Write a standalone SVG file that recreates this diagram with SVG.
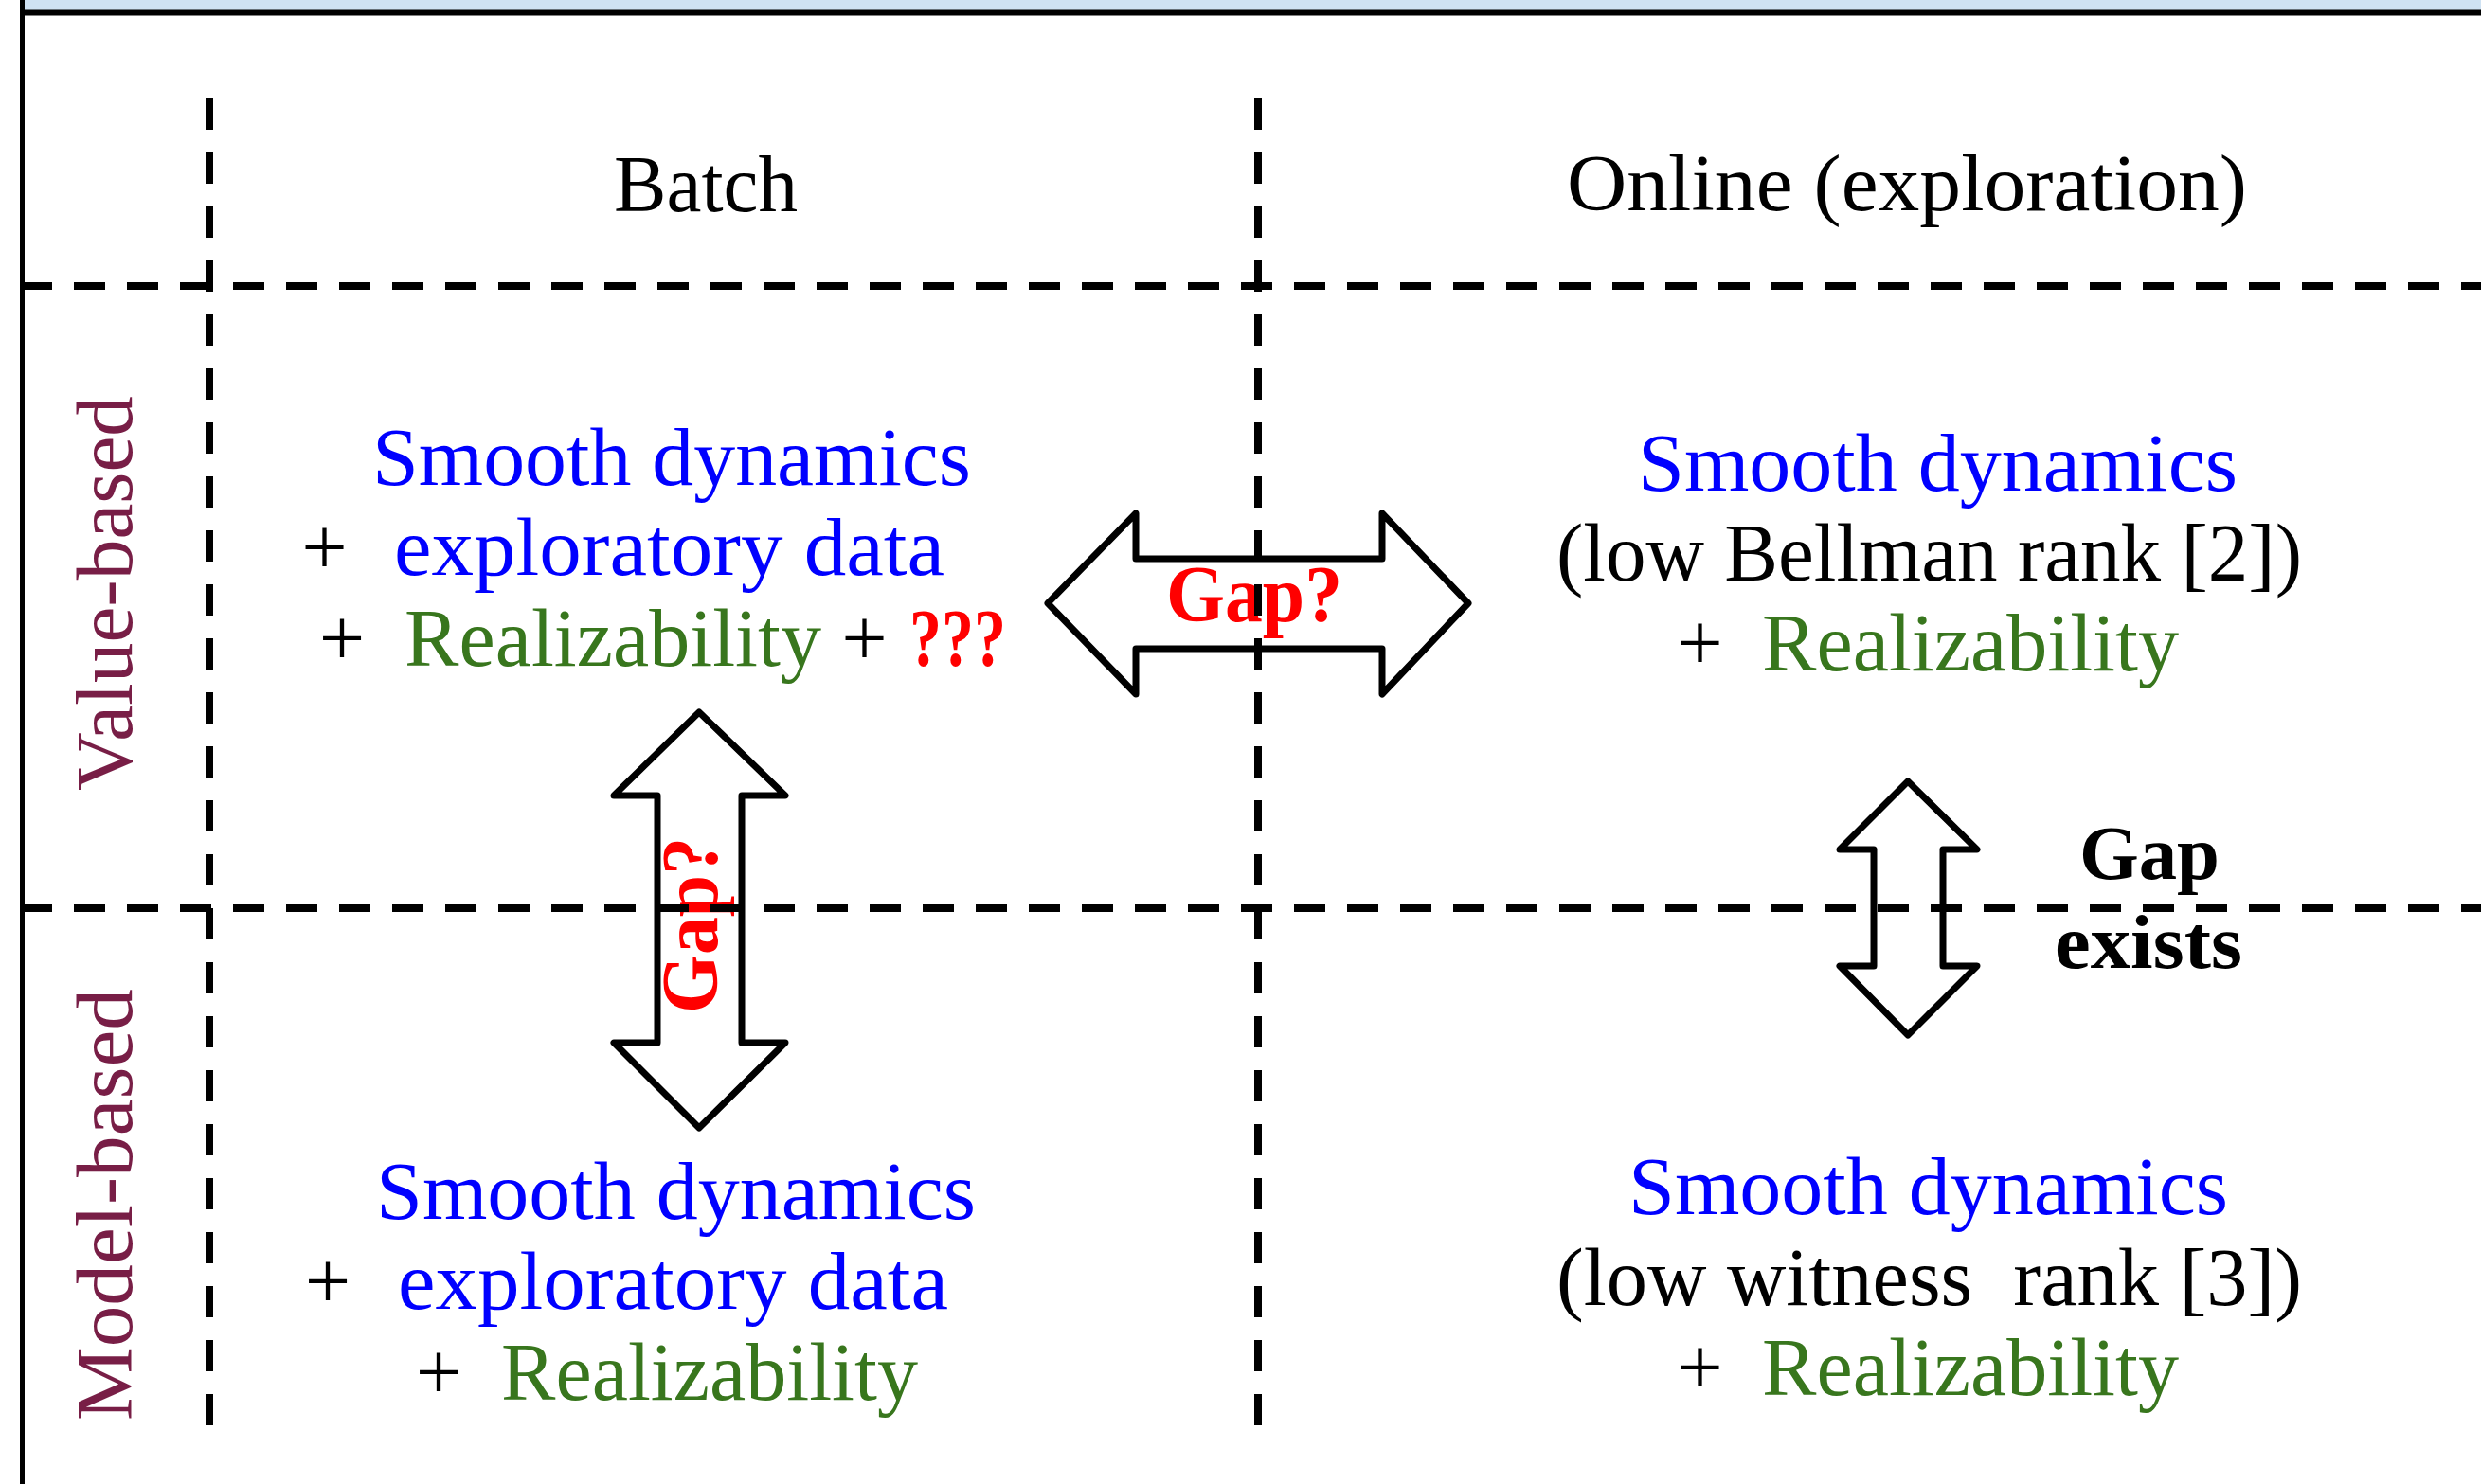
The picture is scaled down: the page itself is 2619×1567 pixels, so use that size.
<svg xmlns="http://www.w3.org/2000/svg" width="2619" height="1567" viewBox="0 0 2619 1567">
  <style>
    text { font-family: "Liberation Serif", "Times New Roman", serif; }
    .t { font-size: 86px; }
    .hd { font-size: 84px; fill: #000; }
    .blue { fill: #0000FF; }
    .green { fill: #38761D; }
    .black { fill: #000; }
    .red { fill: #FF0000; font-weight: bold; }
    .plus { font-size: 86px; fill: #000; text-anchor: middle; }
    .row { font-size: 84px; fill: #781E46; }
    .gap { font-size: 84px; fill: #FF0000; font-weight: bold; }
    .gapk { font-size: 80px; fill: #000; font-weight: bold; }
    .dashH { stroke: #000; stroke-width: 8; stroke-dasharray: 33 23; fill: none; }
    .dashV { stroke: #000; stroke-width: 8; stroke-dasharray: 33 24; fill: none; }
    .arrow { fill: none; stroke: #000; stroke-width: 7; stroke-linejoin: round; }
  </style>

  <rect x="0" y="0" width="2619" height="1567" fill="#FFFFFF"/>
  <!-- light header strip above the frame -->
  <rect x="26" y="0" width="2593" height="11" fill="#CFE2F3"/>

  <!-- double-headed arrows -->
  <g id="connectors">
    <polygon id="arrow-batch-online" class="arrow" points="1106,637 1199,542 1199,590 1459,590 1459,542 1550,637 1459,733 1459,685 1199,685 1199,733"/>
    <polygon id="arrow-batch-value-model" class="arrow" points="738,752 829,840 783,840 783,1101 829,1101 738,1191 648,1101 694,1101 694,840 648,840"/>
    <polygon id="arrow-online-value-model" class="arrow" points="2014,825 2087,897 2051,897 2051,1020 2087,1020 2014,1093 1942,1020 1978,1020 1978,897 1942,897"/>
  </g>

  <!-- column headers -->
  <g id="header-batch">
    <text class="hd" x="648" y="223" textLength="194" lengthAdjust="spacingAndGlyphs">Batch</text>
  </g>
  <g id="header-online">
    <text class="hd" x="1654" y="222" textLength="718" lengthAdjust="spacingAndGlyphs">Online (exploration)</text>
  </g>

  <!-- row headers -->
  <g id="row-value">
    <text class="row" transform="translate(139,835) rotate(-90)" x="0" y="0" textLength="417" lengthAdjust="spacingAndGlyphs">Value-based</text>
  </g>
  <g id="row-model">
    <text class="row" transform="translate(139,1500) rotate(-90)" x="0" y="0" textLength="456" lengthAdjust="spacingAndGlyphs">Model-based</text>
  </g>

  <!-- batch / value-based -->
  <g id="cell-batch-value">
    <text class="t blue" x="393" y="512" textLength="632" lengthAdjust="spacingAndGlyphs">Smooth dynamics</text>
    <text class="plus" x="342.5" y="607">+</text>
    <text class="t blue" x="416" y="607" textLength="581" lengthAdjust="spacingAndGlyphs">exploratory data</text>
    <text class="plus" x="361" y="703">+</text>
    <text class="t green" x="427" y="703" textLength="440" lengthAdjust="spacingAndGlyphs">Realizability</text>
    <text class="plus" x="912.5" y="703">+</text>
    <text class="t red" x="960" y="703" textLength="102" lengthAdjust="spacingAndGlyphs">???</text>
  </g>

  <!-- online / value-based -->
  <g id="cell-online-value">
    <text class="t blue" x="1729" y="518" textLength="633" lengthAdjust="spacingAndGlyphs">Smooth dynamics</text>
    <text class="t black" x="1643" y="613" textLength="787" lengthAdjust="spacingAndGlyphs">(low Bellman rank [2])</text>
    <text class="plus" x="1794.5" y="708">+</text>
    <text class="t green" x="1860" y="708" textLength="440" lengthAdjust="spacingAndGlyphs">Realizability</text>
  </g>

  <!-- batch / model-based -->
  <g id="cell-batch-model">
    <text class="t blue" x="397" y="1287" textLength="633" lengthAdjust="spacingAndGlyphs">Smooth dynamics</text>
    <text class="plus" x="346" y="1382">+</text>
    <text class="t blue" x="420" y="1382" textLength="581" lengthAdjust="spacingAndGlyphs">exploratory data</text>
    <text class="plus" x="463" y="1478">+</text>
    <text class="t green" x="529" y="1478" textLength="440" lengthAdjust="spacingAndGlyphs">Realizability</text>
  </g>

  <!-- online / model-based -->
  <g id="cell-online-model">
    <text class="t blue" x="1719" y="1282" textLength="633" lengthAdjust="spacingAndGlyphs">Smooth dynamics</text>
    <text class="t black" x="1643" y="1378" textLength="787" lengthAdjust="spacingAndGlyphs" xml:space="preserve">(low witness  rank [3])</text>
    <text class="plus" x="1794.5" y="1473">+</text>
    <text class="t green" x="1860" y="1473" textLength="440" lengthAdjust="spacingAndGlyphs">Realizability</text>
  </g>

  <!-- gap labels -->
  <g id="label-gap-horizontal">
    <text class="gap" x="1231" y="656" textLength="186" lengthAdjust="spacingAndGlyphs">Gap?</text>
  </g>
  <g id="label-gap-vertical">
    <text class="gap" transform="translate(757,1070) rotate(-90)" x="0" y="0" textLength="186" lengthAdjust="spacingAndGlyphs">Gap?</text>
  </g>
  <g id="label-gap-exists">
    <text class="gapk" x="2195" y="928" textLength="148" lengthAdjust="spacingAndGlyphs">Gap</text>
    <text class="gapk" x="2169" y="1022" textLength="198" lengthAdjust="spacingAndGlyphs">exists</text>
  </g>

  <!-- dashed grid, drawn over the content -->
  <g id="grid">
    <line class="dashV" x1="221" y1="104" x2="221" y2="1523"/>
    <line class="dashV" x1="1328" y1="104" x2="1328" y2="1523"/>
    <line class="dashH" x1="22" y1="302" x2="2619" y2="302"/>
    <line class="dashH" x1="22" y1="959" x2="2619" y2="959"/>
  </g>

  <!-- frame: top and left edges -->
  <g id="frame">
    <line x1="21" y1="13.5" x2="2619" y2="13.5" stroke="#000" stroke-width="6"/>
    <line x1="23.5" y1="0" x2="23.5" y2="1567" stroke="#000" stroke-width="5"/>
  </g>
</svg>
